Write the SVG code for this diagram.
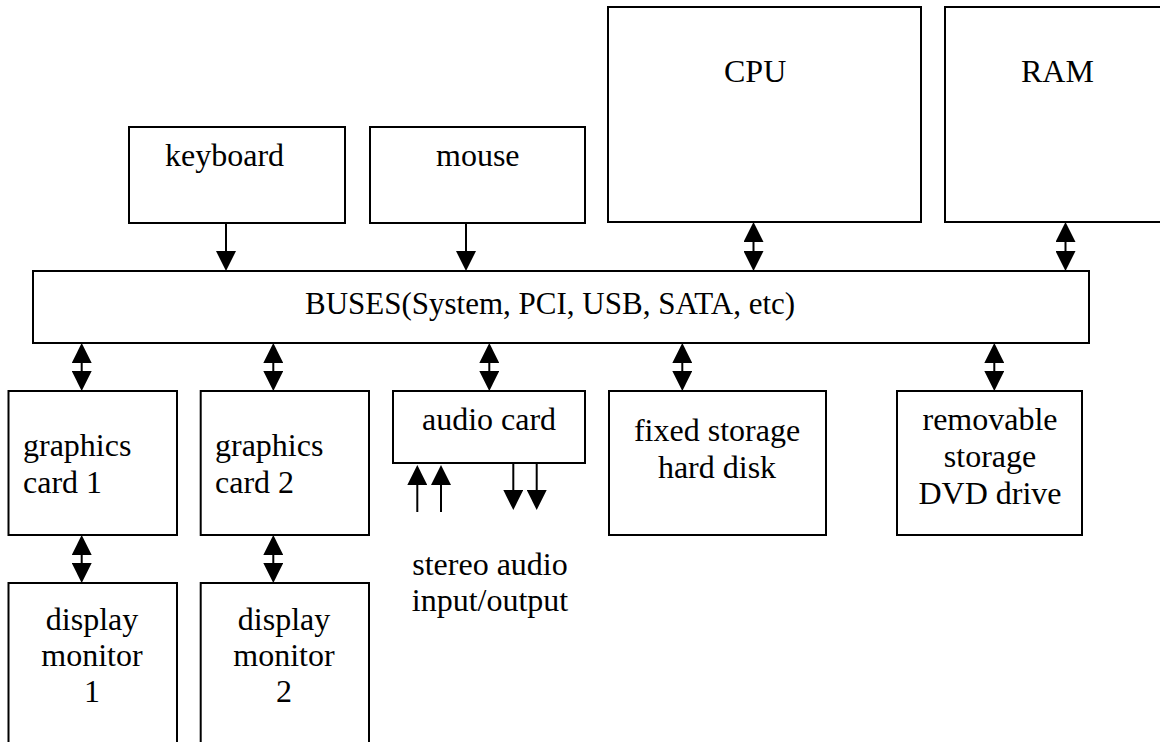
<svg xmlns="http://www.w3.org/2000/svg" width="1160" height="742" viewBox="0 0 1160 742">
<style>
.box{fill:#fff;stroke:#000;stroke-width:2}
.lbl{font-family:'Liberation Serif','DejaVu Serif','Noto Serif',Times,serif;font-size:32px;fill:#000}
.c{text-anchor:middle}
.ln{stroke:#000;stroke-width:2;fill:none}
.one{marker-end:url(#ah)}
.two{marker-start:url(#ah);marker-end:url(#ah)}
</style>
<defs>
<marker id="ah" markerUnits="userSpaceOnUse" markerWidth="20" markerHeight="20" refX="10" refY="10" orient="auto-start-reverse" viewBox="0 0 20 20">
<path d="M0,0 L20,10 L0,20 z" fill="#000"/>
</marker>
</defs>
<rect width="1160" height="742" fill="#fff"/>
<g id="keyboard"><rect class="box" x="129" y="127" width="216" height="96"/><text class="lbl" x="165" y="166">keyboard</text></g>
<g id="mouse"><rect class="box" x="370" y="127" width="215" height="96"/><text class="lbl" x="436" y="166">mouse</text></g>
<g id="cpu"><rect class="box" x="608" y="7" width="313" height="215"/><text class="lbl" x="724" y="82">CPU</text></g>
<g id="ram"><rect class="box" x="945" y="7" width="230" height="215"/><text class="lbl" x="1021" y="82">RAM</text></g>
<g id="buses"><rect class="box" x="33" y="271" width="1056" height="72"/><text class="lbl" x="305" y="314" style="font-size:31px">BUSES(System, PCI, USB, SATA, etc)</text></g>
<g id="graphics1"><rect class="box" x="8.5" y="391" width="168.5" height="144"/><text class="lbl" x="23" y="456">graphics</text><text class="lbl" x="23" y="493">card 1</text></g>
<g id="graphics2"><rect class="box" x="200.7" y="391" width="168.3" height="144"/><text class="lbl" x="215" y="456">graphics</text><text class="lbl" x="215" y="493">card 2</text></g>
<g id="audio"><rect class="box" x="393" y="391" width="192" height="72"/><text class="lbl c" x="489" y="430">audio card</text></g>
<g id="fixed"><rect class="box" x="609" y="391" width="217" height="144"/><text class="lbl c" x="717" y="441">fixed storage</text><text class="lbl c" x="717" y="478">hard disk</text></g>
<g id="removable"><rect class="box" x="897" y="391" width="185" height="144"/><text class="lbl c" x="990" y="430">removable</text><text class="lbl c" x="990" y="467">storage</text><text class="lbl c" x="990" y="504">DVD drive</text></g>
<g id="stereo"><text class="lbl c" x="490" y="575">stereo audio</text><text class="lbl c" x="490" y="611">input/output</text></g>
<g id="display1"><rect class="box" x="8.5" y="583" width="168.5" height="180"/><text class="lbl c" x="92" y="630">display</text><text class="lbl c" x="92" y="666">monitor</text><text class="lbl c" x="92" y="702">1</text></g>
<g id="display2"><rect class="box" x="200.7" y="583" width="168.3" height="180"/><text class="lbl c" x="284" y="630">display</text><text class="lbl c" x="284" y="666">monitor</text><text class="lbl c" x="284" y="702">2</text></g>
<g id="connectors">
<line class="ln one" x1="226" y1="223" x2="226" y2="261"/>
<line class="ln one" x1="466" y1="223" x2="466" y2="261"/>
<line class="ln two" x1="753.5" y1="232" x2="753.5" y2="261"/>
<line class="ln two" x1="1065.5" y1="232" x2="1065.5" y2="261"/>
<line class="ln two" x1="81.7" y1="353" x2="81.7" y2="381"/>
<line class="ln two" x1="273.3" y1="353" x2="273.3" y2="381"/>
<line class="ln two" x1="489.3" y1="353" x2="489.3" y2="381"/>
<line class="ln two" x1="682.3" y1="353" x2="682.3" y2="381"/>
<line class="ln two" x1="994.3" y1="353" x2="994.3" y2="381"/>
<line class="ln two" x1="81.7" y1="545" x2="81.7" y2="573"/>
<line class="ln two" x1="273.3" y1="545" x2="273.3" y2="573"/>
<line class="ln one" x1="417.3" y1="512" x2="417.3" y2="475"/>
<line class="ln one" x1="441" y1="512" x2="441" y2="475"/>
<line class="ln one" x1="513.3" y1="463" x2="513.3" y2="500"/>
<line class="ln one" x1="536.7" y1="463" x2="536.7" y2="500"/>
</g>
</svg>
